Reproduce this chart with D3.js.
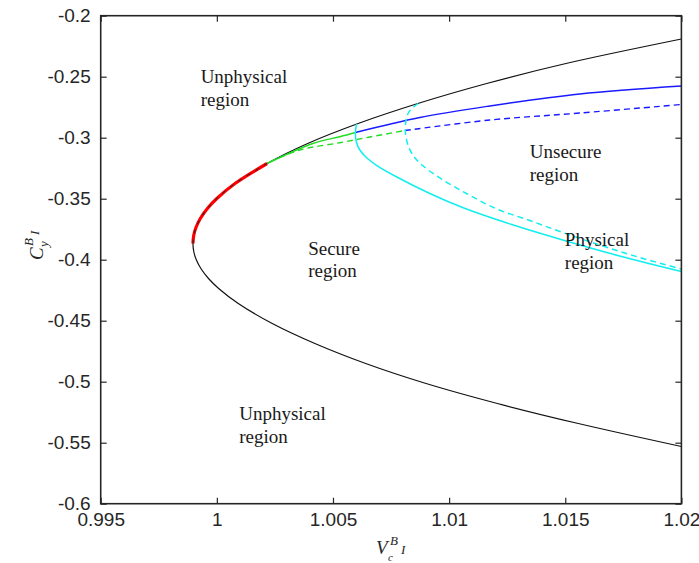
<!DOCTYPE html>
<html><head><meta charset="utf-8">
<script src="https://cdn.jsdelivr.net/npm/d3@7"></script>
<style>html,body{margin:0;padding:0;background:#fff;}svg{display:block;}</style>
</head><body>
<script>
// ---- data ----
const xTicks = [0.995, 1, 1.005, 1.01, 1.015, 1.02];
const xTickLabels = ["0.995", "1", "1.005", "1.01", "1.015", "1.02"];
const yTicks = [-0.6, -0.55, -0.5, -0.45, -0.4, -0.35, -0.3, -0.25, -0.2];
const yTickLabels = ["-0.6", "-0.55", "-0.5", "-0.45", "-0.4", "-0.35", "-0.3", "-0.25", "-0.2"];

const blackUpper = [[0.998972,-0.38672],[0.999004,-0.38016],[0.999102,-0.37361],[0.999289,-0.36623],[0.999594,-0.35803],[1.000000,-0.34984],[1.000783,-0.33754],[1.002164,-0.32115],[1.003911,-0.30475],[1.006084,-0.28836],[1.008653,-0.27197],[1.011618,-0.25557],[1.015030,-0.23918],[1.02,-0.2191]];
const blackLower = [[0.998972,-0.38672],[0.999006,-0.39328],[0.999111,-0.39984],[0.999313,-0.40721],[0.999641,-0.41541],[1.000078,-0.42361],[1.000923,-0.4359],[1.002386,-0.4523],[1.004221,-0.46869],[1.006407,-0.48508],[1.009008,-0.50148],[1.01208,-0.51787],[1.015562,-0.53426],[1.02,-0.55311]];
const redCurve = [[0.998972,-0.38672],[0.999004,-0.38016],[0.999102,-0.37361],[0.999289,-0.36623],[0.999594,-0.35803],[1.000000,-0.34984],[1.000783,-0.33754],[1.002164,-0.32115]];
const greenSolid = [[1.002164,-0.32115],[1.004135,-0.30475],[1.005297,-0.29918],[1.005964,-0.29574]];
const greenDashed = [[1.002285,-0.31975],[1.003576,-0.31008],[1.005297,-0.30410],[1.006588,-0.29943],[1.008094,-0.29410]];
const blueSolid = [[1.005964,-0.29574],[1.008739,-0.28344],[1.011751,-0.27402],[1.015624,-0.26418],[1.02,-0.25762]];
const blueDashed = [[1.008094,-0.29410],[1.011751,-0.28550],[1.015624,-0.27980],[1.02,-0.27280]];
const cyanSolid = [[1.006015,-0.28877],[1.005964,-0.29615],[1.006007,-0.30352],[1.006157,-0.31008],[1.006459,-0.31664],[1.006889,-0.32279],[1.00775,-0.33221],[1.00917,-0.34574],[1.010633,-0.35762],[1.012698,-0.37115],[1.014892,-0.38385],[1.017345,-0.39697],[1.02,-0.40967]];
const cyanDashed = [[1.008666,-0.27197],[1.008244,-0.27975],[1.008115,-0.29205],[1.008201,-0.30434],[1.008438,-0.31418],[1.008782,-0.32156],[1.0096,-0.33303],[1.010749,-0.34574],[1.012053,-0.35844],[1.013473,-0.36787],[1.014828,-0.3773],[1.016485,-0.38795],[1.018206,-0.3982],[1.02,-0.40762]];

const regionLabels = [
  {lines:["Unphysical","region"], x:0.999303, y:-0.2552},
  {lines:["Secure","region"], x:1.003933, y:-0.3961},
  {lines:["Unsecure","region"], x:1.013473, y:-0.3169},
  {lines:["Physical","region"], x:1.014982, y:-0.3888},
  {lines:["Unphysical","region"], x:1.000964, y:-0.5314}
];

// ---- layout ----
const W = 699, H = 563;
const L = 100.7, R = 681.4, T = 15.7, B = 503.7;
const svg = d3.select("body").append("svg").attr("width", W).attr("height", H);
const x = d3.scaleLinear().domain([0.995, 1.02]).range([L, R]);
const y = d3.scaleLinear().domain([-0.6, -0.2]).range([B, T]);
const axisColor = "#262626";

const line = d3.line().x(d => x(d[0])).y(d => y(d[1])).curve(d3.curveCatmullRom.alpha(0.5));

const g = svg.append("g");
const blackAll = blackLower.slice().reverse().concat(blackUpper.slice(1));
g.append("path").attr("d", line(blackAll)).attr("fill","none").attr("stroke","#111").attr("stroke-width",1.2);
g.append("path").attr("d", line(redCurve)).attr("fill","none").attr("stroke","#ff0000").attr("stroke-width",3.2);
g.append("path").attr("d", line(redCurve)).attr("fill","none").attr("stroke","#222").attr("stroke-width",1).attr("stroke-dasharray","4,6");
g.append("path").attr("d", line(greenSolid)).attr("fill","none").attr("stroke","#22dd22").attr("stroke-width",1.4);
g.append("path").attr("d", line(greenDashed)).attr("fill","none").attr("stroke","#22dd22").attr("stroke-width",1.4).attr("stroke-dasharray","6,4");
g.append("path").attr("d", line(blueSolid)).attr("fill","none").attr("stroke","#1a1aff").attr("stroke-width",1.4);
g.append("path").attr("d", line(blueDashed)).attr("fill","none").attr("stroke","#1a1aff").attr("stroke-width",1.4).attr("stroke-dasharray","6,4");
g.append("path").attr("d", line(cyanSolid)).attr("fill","none").attr("stroke","#10eef0").attr("stroke-width",1.5);
g.append("path").attr("d", line(cyanDashed)).attr("fill","none").attr("stroke","#10eef0").attr("stroke-width",1.5).attr("stroke-dasharray","6,4");

// frame
svg.append("rect").attr("x",L).attr("y",T).attr("width",R-L).attr("height",B-T)
  .attr("fill","none").attr("stroke",axisColor).attr("stroke-width",1.6);

// ticks (inside, all sides) via axes
const tl = 6;
const xb = d3.axisBottom(x).tickValues(xTicks).tickSize(-tl).tickFormat((d,i)=>xTickLabels[i]).tickPadding(9);
const xt = d3.axisTop(x).tickValues(xTicks).tickSize(-tl).tickFormat("");
const yl = d3.axisLeft(y).tickValues(yTicks).tickSize(-tl).tickFormat((d,i)=>yTickLabels[i]).tickPadding(10);
const yr = d3.axisRight(y).tickValues(yTicks).tickSize(-tl).tickFormat("");
function style(sel){
  sel.select(".domain").remove();
  sel.selectAll("line").attr("stroke",axisColor).attr("stroke-width",1.2);
  sel.selectAll("text").attr("fill",axisColor).attr("font-family","'Liberation Sans', Arial, sans-serif").attr("font-size",19);
}
svg.append("g").attr("transform",`translate(0,${B})`).call(xb).call(style);
svg.append("g").attr("transform",`translate(0,${T})`).call(xt).call(style);
svg.append("g").attr("transform",`translate(${L},0)`).call(yl).call(style);
svg.append("g").attr("transform",`translate(${R},0)`).call(yr).call(style);

// region labels
regionLabels.forEach(r => {
  const t = svg.append("text").attr("font-family","'Liberation Serif', 'Times New Roman', serif")
    .attr("font-size",19).attr("fill","#1a1a1a");
  r.lines.forEach((s,i) => t.append("tspan").attr("x", x(r.x)).attr("y", y(r.y) + i*22.5).text(s));
});

// axis titles
const serif = "'Liberation Serif', 'Times New Roman', serif";
const xt2 = svg.append("text").attr("font-family",serif).attr("font-style","italic").attr("fill",axisColor);
xt2.append("tspan").attr("x",376).attr("y",554).attr("font-size",19).text("V");
xt2.append("tspan").attr("x",390).attr("y",545).attr("font-size",13).text("B");
xt2.append("tspan").attr("x",401).attr("y",554).attr("font-size",13).text("I");
xt2.append("tspan").attr("x",388).attr("y",561).attr("font-size",11).text("c");

const yg = svg.append("g").attr("transform","translate(43,260) rotate(-90)");
const yt = yg.append("text").attr("font-family",serif).attr("font-style","italic").attr("fill",axisColor);
yt.append("tspan").attr("x",0).attr("y",0).attr("font-size",19).text("C");
yt.append("tspan").attr("x",14).attr("y",-10).attr("font-size",13).text("B");
yt.append("tspan").attr("x",25).attr("y",-4).attr("font-size",13).text("I");
yt.append("tspan").attr("x",13).attr("y",5).attr("font-size",13).text("y");
</script>
</body></html>
